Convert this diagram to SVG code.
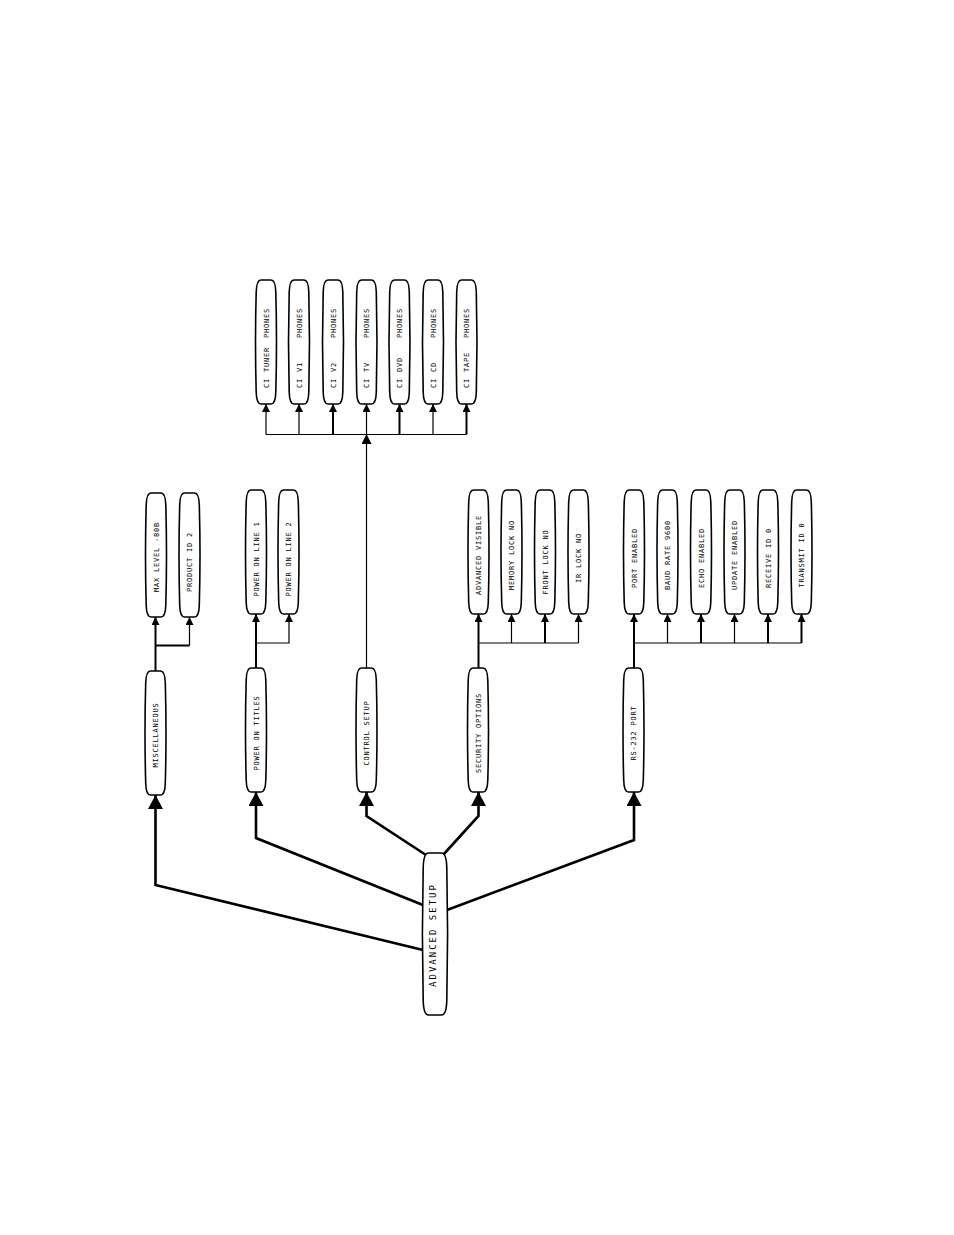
<svg xmlns="http://www.w3.org/2000/svg" xmlns:xlink="http://www.w3.org/1999/xlink" width="954" height="1235" viewBox="0 0 954 1235">
<style>
.node{fill:#fff;stroke:#000;stroke-width:1.6}
.t{font-family:"DejaVu Sans Mono","Liberation Mono",monospace;font-size:7px;letter-spacing:0.8px;fill:#000}
.tm{font-family:"DejaVu Sans Mono","Liberation Mono",monospace;font-size:9px;letter-spacing:2px;fill:#000}
.c{fill:none;stroke:#000;stroke-linejoin:miter}
.w1{stroke-width:1.2}
.w2{stroke-width:2}
.w3{stroke-width:2.6}
.sa{marker-end:url(#sa)}
.ma{marker-end:url(#ma)}
.ba{marker-end:url(#ba)}
</style>
<defs>
<path id="pill" d="M-5,-62 L5,-62 Q9.5,-62 9.8,-50 Q11.2,0 9.8,50 Q9.5,62 5,62 L-5,62 Q-9.5,62 -9.8,50 Q-11.2,0 -9.8,-50 Q-9.5,-62 -5,-62 Z"/>
<path id="pillL" d="M-6.5,-81 L6.5,-81 Q11.5,-81 11.8,-66 Q13.4,0 11.8,66 Q11.5,81 6.5,81 L-6.5,81 Q-11.5,81 -11.8,66 Q-13.4,0 -11.8,-66 Q-11.5,-81 -6.5,-81 Z"/>
<marker id="sa" markerUnits="userSpaceOnUse" markerWidth="8" markerHeight="8" viewBox="0 0 8 8" refX="8" refY="4" orient="auto"><path d="M0,0 L8,4 L0,8 Z" fill="#000"/></marker>
<marker id="ma" markerUnits="userSpaceOnUse" markerWidth="10" markerHeight="10" viewBox="0 0 10 10" refX="10" refY="5" orient="auto"><path d="M0,0 L10,5 L0,10 Z" fill="#000"/></marker>
<marker id="ba" markerUnits="userSpaceOnUse" markerWidth="14" markerHeight="15" viewBox="0 0 14 15" refX="14" refY="7.5" orient="auto"><path d="M0,0 L14,7.5 L0,15 Z" fill="#000"/></marker>
</defs>
<rect width="954" height="1235" fill="#fff"/>

<g id="connectors">
<path class="c w3 ba" d="M423,950 L155.5,885 L155.5,795"/>
<path class="c w3 ba" d="M423,905 L256,838 L256,792"/>
<path class="c w3 ba" d="M426,855 L366.5,816 L366.5,792"/>
<path class="c w3 ba" d="M443,855 L478.5,816 L478.5,792"/>
<path class="c w3 ba" d="M447,910 L634,840 L634,792"/>
<path class="c w2 sa" d="M155.5,671 L155.5,617"/>
<path class="c w2" d="M155.5,645.5 L189.5,645.5"/>
<path class="c w1 sa" d="M189.5,645.5 L189.5,617"/>
<path class="c w2 sa" d="M256,668 L256,614"/>
<path class="c w1 sa" d="M256,643 L289,643 L289,614"/>
<path class="c w1 ma" d="M366.5,668 L366.5,434"/>
<path class="c w1" d="M266,434.5 L466.5,434.5"/>
<path class="c w1 sa" d="M266,434.5 L266,404"/>
<path class="c w1 sa" d="M299,434.5 L299,404"/>
<path class="c w2 sa" d="M333,434.5 L333,404"/>
<path class="c w1 sa" d="M366.5,434.5 L366.5,404"/>
<path class="c w2 sa" d="M399.5,434.5 L399.5,404"/>
<path class="c w1 sa" d="M433,434.5 L433,404"/>
<path class="c w2 sa" d="M466.5,434.5 L466.5,404"/>
<path class="c w2 sa" d="M478.5,668 L478.5,614"/>
<path class="c w1" d="M478.5,643 L578.5,643"/>
<path class="c w1 sa" d="M511.5,643 L511.5,614"/>
<path class="c w2 sa" d="M545,643 L545,614"/>
<path class="c w1 sa" d="M578.5,643 L578.5,614"/>
<path class="c w2 sa" d="M634,668 L634,614"/>
<path class="c w1" d="M634,643 L801.5,643"/>
<path class="c w1 sa" d="M667.5,643 L667.5,614"/>
<path class="c w2 sa" d="M701,643 L701,614"/>
<path class="c w1 sa" d="M734.5,643 L734.5,614"/>
<path class="c w2 sa" d="M768,643 L768,614"/>
<path class="c w2 sa" d="M801.5,643 L801.5,614"/>
</g>

<g id="n-advanced-setup"><use href="#pillL" x="435" y="934" class="node"/><text class="tm" transform="translate(436.3,935) rotate(-90)" text-anchor="middle">ADVANCED SETUP</text></g>

<g id="n-misc"><use href="#pill" x="155.5" y="733" class="node"/><text class="t" transform="translate(158,735) rotate(-90)" text-anchor="middle">MISCELLANEOUS</text></g>
<g id="n-power-titles"><use href="#pill" x="256" y="730" class="node"/><text class="t" transform="translate(258.5,733) rotate(-90)" text-anchor="middle">POWER ON TITLES</text></g>
<g id="n-control"><use href="#pill" x="366.5" y="730" class="node"/><text class="t" transform="translate(369,733) rotate(-90)" text-anchor="middle">CONTROL SETUP</text></g>
<g id="n-security"><use href="#pill" x="478" y="730" class="node"/><text class="t" transform="translate(480.5,733) rotate(-90)" text-anchor="middle">SECURITY OPTIONS</text></g>
<g id="n-rs232"><use href="#pill" x="633.5" y="730" class="node"/><text class="t" transform="translate(636,733) rotate(-90)" text-anchor="middle">RS-232 PORT</text></g>

<g id="n-maxlevel"><use href="#pill" x="156" y="555" class="node"/><text class="t" transform="translate(158.5,557) rotate(-90)" text-anchor="middle">MAX LEVEL -80B</text></g>
<g id="n-productid"><use href="#pill" x="189.5" y="555" class="node"/><text class="t" transform="translate(192,562) rotate(-90)" text-anchor="middle">PRODUCT ID 2</text></g>
<g id="n-powerline1"><use href="#pill" x="256" y="552" class="node"/><text class="t" transform="translate(258.5,559) rotate(-90)" text-anchor="middle">POWER ON LINE 1</text></g>
<g id="n-powerline2"><use href="#pill" x="288.5" y="552" class="node"/><text class="t" transform="translate(291,559) rotate(-90)" text-anchor="middle">POWER ON LINE 2</text></g>
<g id="n-advvisible"><use href="#pill" x="478.5" y="552" class="node"/><text class="t" transform="translate(481,555) rotate(-90)" text-anchor="middle">ADVANCED VISIBLE</text></g>
<g id="n-memlock"><use href="#pill" x="511.5" y="552" class="node"/><text class="t" transform="translate(514,555) rotate(-90)" text-anchor="middle">MEMORY LOCK NO</text></g>
<g id="n-frontlock"><use href="#pill" x="545" y="552" class="node"/><text class="t" transform="translate(547.5,562) rotate(-90)" text-anchor="middle">FRONT LOCK NO</text></g>
<g id="n-irlock"><use href="#pill" x="578.5" y="552" class="node"/><text class="t" transform="translate(581,558) rotate(-90)" text-anchor="middle">IR LOCK NO</text></g>
<g id="n-portenabled"><use href="#pill" x="634" y="552" class="node"/><text class="t" transform="translate(636.5,558) rotate(-90)" text-anchor="middle">PORT ENABLED</text></g>
<g id="n-baud"><use href="#pill" x="667.5" y="552" class="node"/><text class="t" transform="translate(670,555) rotate(-90)" text-anchor="middle">BAUD RATE 9600</text></g>
<g id="n-echo"><use href="#pill" x="701" y="552" class="node"/><text class="t" transform="translate(703.5,558) rotate(-90)" text-anchor="middle">ECHO ENABLED</text></g>
<g id="n-update"><use href="#pill" x="734.5" y="552" class="node"/><text class="t" transform="translate(737,555) rotate(-90)" text-anchor="middle">UPDATE ENABLED</text></g>
<g id="n-receive"><use href="#pill" x="768" y="552" class="node"/><text class="t" transform="translate(770.5,558) rotate(-90)" text-anchor="middle">RECEIVE ID 0</text></g>
<g id="n-transmit"><use href="#pill" x="801.5" y="552" class="node"/><text class="t" transform="translate(804,555) rotate(-90)" text-anchor="middle">TRANSMIT ID 0</text></g>

<g id="n-ci-tuner"><use href="#pill" x="266" y="342" class="node"/><text class="t" transform="translate(268.5,0) rotate(-90)"><tspan x="-388">CI</tspan> <tspan x="-372">TUNER</tspan> <tspan x="-338">PHONES</tspan></text></g>
<g id="n-ci-v1"><use href="#pill" x="299" y="342" class="node"/><text class="t" transform="translate(301.5,0) rotate(-90)"><tspan x="-388">CI</tspan> <tspan x="-372">V1</tspan> <tspan x="-338">PHONES</tspan></text></g>
<g id="n-ci-v2"><use href="#pill" x="333" y="342" class="node"/><text class="t" transform="translate(335.5,0) rotate(-90)"><tspan x="-388">CI</tspan> <tspan x="-372">V2</tspan> <tspan x="-338">PHONES</tspan></text></g>
<g id="n-ci-tv"><use href="#pill" x="366.5" y="342" class="node"/><text class="t" transform="translate(369,0) rotate(-90)"><tspan x="-388">CI</tspan> <tspan x="-372">TV</tspan> <tspan x="-338">PHONES</tspan></text></g>
<g id="n-ci-dvd"><use href="#pill" x="399.5" y="342" class="node"/><text class="t" transform="translate(402,0) rotate(-90)"><tspan x="-388">CI</tspan> <tspan x="-372">DVD</tspan> <tspan x="-338">PHONES</tspan></text></g>
<g id="n-ci-cd"><use href="#pill" x="433" y="342" class="node"/><text class="t" transform="translate(435.5,0) rotate(-90)"><tspan x="-388">CI</tspan> <tspan x="-372">CD</tspan> <tspan x="-338">PHONES</tspan></text></g>
<g id="n-ci-tape"><use href="#pill" x="466.5" y="342" class="node"/><text class="t" transform="translate(469,0) rotate(-90)"><tspan x="-388">CI</tspan> <tspan x="-372">TAPE</tspan> <tspan x="-338">PHONES</tspan></text></g>
</svg>
